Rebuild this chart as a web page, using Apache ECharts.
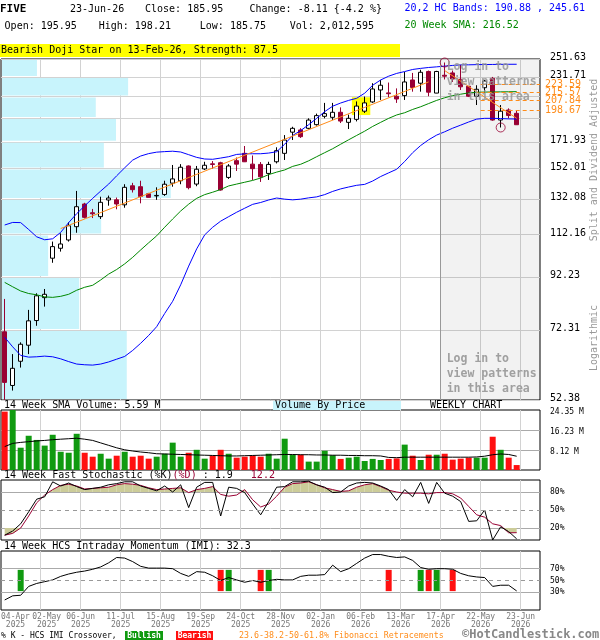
<!DOCTYPE html>
<html><head><meta charset="utf-8">
<script src="https://cdn.jsdelivr.net/npm/echarts@6/dist/echarts.min.js"></script>
<style>html,body{margin:0;padding:0;background:#fff}#c{width:600px;height:640px}</style>
</head><body><div id="c"></div>
<script>
// ---------------- DATA ----------------
const opens  = [71.7,56.0,62.6,67.4,75.5,83.9,100.6,105.3,109.4,116.3,129.1,124.0,121.8,131.5,131.6,128.6,140.4,139.8,135.3,134.0,134.9,142.1,143.7,153.8,141.5,151.7,155.3,156.1,145.9,157.6,163.0,155.1,154.9,148.6,156.8,163.0,179.7,181.5,182.9,186.0,193.3,192.4,196.9,188.0,190.6,197.9,206.5,218.2,215.3,212.0,212.6,228.5,225.1,237.6,215.1,233.5,236.0,229.2,222.0,212.0,220.5,230.2,190.0,199.0,195.95];
const closes = [56.8,60.6,67.7,75.4,84.6,85.2,106.1,107.4,116.8,127.5,121.4,123.4,130.1,132.7,129.1,139.4,137.9,133.7,133.1,134.3,141.4,144.9,152.9,139.2,151.5,154.3,154.9,137.7,153.8,155.1,156.8,151.9,146.3,154.9,165.0,173.3,182.9,176.0,190.0,193.9,195.7,196.9,189.1,191.5,202.6,205.6,219.2,223.0,214.5,209.3,226.4,220.8,236.7,216.0,237.6,232.5,229.5,221.4,212.0,218.9,227.4,190.0,197.9,194.06,185.95];
const lows   = [52.4,54.7,60.8,64.7,73.7,80.5,98.5,103.7,108.6,113.1,120.8,121.0,120.5,128.1,126.0,126.9,136.1,129.5,133.0,131.6,134.0,139.8,141.4,138.1,140.1,151.0,151.9,137.3,144.9,150.3,156.6,144.2,142.9,144.2,155.6,158.1,173.3,175.0,182.1,185.2,191.5,190.0,187.4,182.3,188.8,196.3,205.6,208.4,211.0,205.6,208.4,216.5,216.5,212.0,215.0,229.0,226.4,218.2,211.2,203.6,215.1,189.4,183.6,191.5,185.75];
const highs  = [83.4,64.7,68.3,79.3,85.6,87.3,108.6,112.8,118.7,137.1,129.8,126.2,133.5,134.2,133.0,141.4,142.3,143.7,135.9,139.4,143.7,154.5,155.1,154.2,153.8,156.8,157.3,156.8,155.1,159.9,168.6,161.4,156.6,156.8,167.6,177.3,184.2,183.0,191.5,195.7,205.6,205.6,201.4,194.8,207.0,211.7,225.1,228.5,225.8,219.8,237.0,236.0,239.5,238.6,238.3,247.6,238.6,244.9,222.0,223.0,228.5,231.7,203.6,200.5,198.21];

const hcUpper = [117.2,118.6,118.5,114.8,111.0,109.5,110.0,113.3,118.5,123.5,128.0,132.5,137.0,141.5,147.0,152.5,158.0,161.0,162.8,163.9,164.3,164.6,164.0,162.0,160.0,158.8,158.6,159.5,160.5,162.2,162.6,162.7,162.7,163.2,164.2,170.0,177.0,181.0,186.0,191.5,197.5,202.5,205.5,208.0,210.0,215.0,223.0,228.5,232.5,235.5,237.5,239.8,241.0,242.0,242.7,243.5,244.3,244.9,245.0,245.2,245.3,245.4,245.5,245.6,245.61];
const hcLower = [69.9,66.9,64.3,63.8,63.9,64.1,63.9,63.3,62.5,61.8,61.6,61.5,61.8,62.4,63.2,64.0,65.8,68.0,70.5,73.4,78.0,82.5,89.0,97.0,105.0,112.0,116.0,119.3,121.8,124.3,126.6,128.9,130.0,131.5,132.7,132.0,131.6,132.0,132.8,133.4,134.8,136.8,138.4,139.6,140.7,141.3,143.5,146.5,149.0,151.5,157.0,163.5,169.0,173.5,177.3,180.0,183.0,185.6,188.3,190.8,191.5,191.5,191.3,191.0,190.88];
const sma20   = [90.0,88.2,86.5,85.5,85.0,84.2,84.0,84.4,85.2,86.8,88.0,88.8,91.0,93.5,95.5,98.0,101.0,104.5,108.0,111.5,116.0,120.5,125.0,129.0,132.5,134.8,136.3,138.0,140.3,141.5,142.7,143.9,145.5,147.8,149.5,151.0,153.5,155.0,157.5,160.5,163.5,166.5,170.0,173.5,177.0,180.5,184.5,188.0,191.5,194.5,196.5,199.5,202.0,205.0,208.0,210.5,212.6,214.0,215.3,215.9,216.1,216.2,216.3,216.4,216.52];

const volumes = [23.7,25.5,9.05,13.9,12.2,9.9,14.3,7.4,7.0,14.7,7.0,5.4,6.6,4.6,5.8,7.4,5.4,5.8,4.6,5.4,6.6,11.1,5.4,7.0,8.2,4.6,5.8,8.2,6.6,5.0,5.4,5.8,5.4,6.6,4.6,12.7,6.2,6.2,3.4,3.4,7.8,6.0,4.5,5.0,5.4,3.65,4.5,4.06,4.5,4.7,10.3,5.8,4.06,6.2,6.2,6.6,4.2,4.6,5.0,5.0,5.0,13.5,8.2,5.0,2.01];
const volDir  = 'RGGGGGGGGGRRGGRGRRRGGGGRGGRRGRRRRGGGGRGGGGRGGGGGRRGRGRGRRRRGGRGRR';
const volSma  = [9.5,10.8,11.2,11.5,11.8,12.0,12.3,12.5,12.7,12.9,12.5,12.0,11.0,10.0,9.0,8.2,7.7,7.3,7.0,6.6,6.5,6.4,6.3,6.2,6.1,6.0,5.9,5.8,5.7,5.7,5.8,5.9,6.0,6.1,6.2,6.3,6.3,6.2,6.2,6.1,6.1,6.0,6.0,5.9,5.9,5.8,5.8,5.7,5.1,5.0,5.2,5.2,5.2,5.2,5.2,5.2,5.2,5.2,5.2,5.3,5.6,6.2,6.5,6.3,5.59];

const stochK = [8,15,27,47,68,72,97,90,95,89,84,86,88,92,94,97,97,90,86,82,90,80,92,54,88,96,96,40,88,86,79,60,42,64,88,89,97,97,98,92,88,79,80,90,95,96,95,90,84,66,84,72,96,61,96,78,73,64,31,32,50,0,22,14,1.9];
const stochD = [8,11,20,40,62,75,84,91,93,90,85,86,87,88,92,94,93,91,87,84,85,86,87,79,84,86,89,76,73,75,84,67,55,60,73,88,94,95,97,92,87,84,81,82,88,92,94,89,83,80,78,78,78,77,79,79,77,70,56,42,38,27,24,12,12.2];

const imi = [17,24,25,40,45,48,51,57,61,64,66,69,73,80,89,88,82,74,71,71,71,70,62,57,65,64,58,50,55,51,47,50,47,50,52,51,51,57,59,59,60,76,65,70,79,88,94,94,91,89,90,84,72,69,70,70,69,62,58,56,55,40,42,42,32.3];
const imiBullish = [2,28,33,52,54];
const imiBearish = [27,32,48,53,56];

const priceTicks  = [52.38,72.31,92.23,112.16,132.08,152.01,171.93,191.86,211.78,231.71,251.63];
const priceLabels = [52.38,72.31,92.23,112.16,132.08,152.01,171.93,231.71,251.63];
const vbpVolume   = [28.0,17.4,10.5,22.3,37.8,22.9,25.6,21.1,28.3,8.0]; // per price band, low -> high
const volTicks    = [8.12,16.23,24.35];
const fibLevels   = [223.59,215.57,207.84,198.67];
const trendUp     = [[7,115.3],[53,226.5]];
const trendDown   = [[55,238.6],[64,191.5]];
const swingPoints = [[55,247.6],[62,183.6]];
const patternBox  = [[43.4,211.0],[45.7,194.4]];
const loginStart  = 54.5;
const fibStart    = 59.5;
const weekGrid    = [4.5,9.5,14.5,19.5,24.5,29.5,34.5,39.5,44.5,49.5,54.5,59.5,64.5];
const datePos     = [1.35,5.25,9.5,14.5,19.5,24.5,29.5,34.5,39.5,44.5,49.5,54.5,59.5,64.5];
const dateLabels  = ['04-Apr\n2025','02-May\n2025','06-Jun\n2025','11-Jul\n2025','15-Aug\n2025','19-Sep\n2025','24-Oct\n2025','28-Nov\n2025','02-Jan\n2026','06-Feb\n2026','13-Mar\n2026','17-Apr\n2026','22-May\n2026','23-Jun\n2026'];

// ---------------- CHART ----------------
const XMIN = -0.46, XMAX = 66.915;
const MONO = '"DejaVu Sans Mono", monospace';
const idx = opens.map((_, i) => i);
const pairs = arr => arr.map((v, i) => [i, v]);

const grids = [
  {left:1, top:59, width:539, height:341},
  {left:1, top:410, width:539, height:60},
  {left:1, top:480, width:539, height:60},
  {left:1, top:551, width:539, height:59}
].map(g => Object.assign(g, {show:true, borderColor:'#000', borderWidth:1, backgroundColor:'#fff', containLabel:false, outerBoundsMode:'none'}));

const xAx = gi => ({
  type:'value', gridIndex:gi, min:XMIN, max:XMAX,
  axisLine:{show:false}, axisTick:{show:false, customValues:weekGrid},
  axisLabel:{show:false}, splitLine:{show:true, lineStyle:{color:'#d2d2d2', width:1}}
});
const xAxes = [xAx(0), xAx(1), xAx(2), xAx(3),
  {type:'value', gridIndex:0, min:0, max:120, show:false, splitLine:{show:false}}];
xAxes[3].axisLabel = {
  show:true, hideOverlap:false, customValues:datePos, fontFamily:MONO, fontSize:8, lineHeight:8, color:'#777', margin:3,
  formatter: v => { const k = datePos.findIndex(p => Math.abs(p - v) < 1e-6); return k >= 0 ? dateLabels[k] : ''; }
};

const yAxes = [
  {type:'log', gridIndex:0, position:'right', min:52.375, max:251.635,
   axisLine:{show:false}, axisTick:{show:false, customValues:priceTicks},
   splitLine:{show:true, lineStyle:{color:'#d2d2d2'}},
   axisLabel:{customValues:priceLabels, hideOverlap:false, formatter:v => Number(v).toFixed(2), fontFamily:MONO, fontSize:10, color:'#000', margin:10, verticalAlign:'bottom', lineHeight:3}},
  {type:'value', gridIndex:1, position:'right', min:0, max:24.35,
   axisLine:{show:false}, axisTick:{show:false, customValues:[8.12,16.23]},
   splitLine:{show:true, lineStyle:{color:'#aaaaaa'}},
   axisLabel:{customValues:volTicks, hideOverlap:false, formatter:v => Number(v).toFixed(2) + ' M', fontFamily:MONO, fontSize:8, color:'#000', margin:10, verticalAlign:'top', lineHeight:4}},
  {type:'value', gridIndex:2, position:'right', min:0, max:100,
   axisLine:{show:false}, axisTick:{show:false, customValues:[20,80]},
   splitLine:{show:true, lineStyle:{color:'#aaaaaa'}},
   axisLabel:{customValues:[20,50,80], hideOverlap:false, formatter:v => v + '%', fontFamily:MONO, fontSize:8, color:'#000', margin:10}},
  {type:'value', gridIndex:3, position:'right', min:0, max:100,
   axisLine:{show:false}, axisTick:{show:false, customValues:[30,70]},
   splitLine:{show:true, lineStyle:{color:'#aaaaaa'}},
   axisLabel:{customValues:[30,50,70], hideOverlap:false, formatter:v => v + '%', fontFamily:MONO, fontSize:8, color:'#000', margin:10}}
];

const line = (data, color, xi, yi, extra) => Object.assign({
  type:'line', xAxisIndex:xi, yAxisIndex:yi, data, symbol:'none', silent:true,
  lineStyle:{color, width:1}, z:4
}, extra || {});

const dash50 = {silent:true, symbol:['none','none'], label:{show:false},
  lineStyle:{color:'#999', type:[4,4], width:1}, data:[{yAxis:50}]};

// khaki fill between %D and an overbought/oversold level
const stochFill = (level, above) => ({
  type:'custom', xAxisIndex:2, yAxisIndex:2, z:2, silent:true,
  data: stochD.slice(0, -1).map((d, i) => [i, d, stochD[i + 1]]),
  encode:{x:0},
  renderItem:(params, api) => {
    const i = api.value(0), d0 = api.value(1), d1 = api.value(2);
    const a = above ? d0 - level : level - d0;
    const b = above ? d1 - level : level - d1;
    if (a <= 0 && b <= 0) return null;
    let pts;
    if (a > 0 && b > 0) pts = [[i, level], [i, d0], [i + 1, d1], [i + 1, level]];
    else if (a > 0) { const t = a / (a - b); pts = [[i, level], [i, d0], [i + t, level]]; }
    else { const t = a / (a - b); pts = [[i + t, level], [i + 1, d1], [i + 1, level]]; }
    return {type:'polygon', shape:{points: pts.map(p => api.coord(p))}, style:{fill:'#cccc99'}};
  }
});

const series = [
  // Volume by price
  {type:'custom', xAxisIndex:4, yAxisIndex:0, z:1, silent:true,
   data: vbpVolume.map((v, k) => [v, priceTicks[k], priceTicks[k + 1]]),
   encode:{x:0, y:[1,2]},
   renderItem:(params, api) => {
     const p0 = api.coord([0, api.value(2)]);
     const p1 = api.coord([api.value(0), api.value(1)]);
     return {type:'rect', shape:{x:p0[0] + 1, y:p0[1] + 1, width:p1[0] - p0[0] - 1, height:p1[1] - p0[1] - 2}, style:{fill:'#c8f4fc'}};
   }},
  // Candles
  {type:'candlestick', xAxisIndex:0, yAxisIndex:0, z:3, barWidth:5, silent:true,
   data: idx.map(i => [i, opens[i], closes[i], lows[i], highs[i]]),
   encode:{x:0, y:[1,2,3,4]},
   itemStyle:{color:'#ffffff', color0:'#990033', borderColor:'#000000', borderColor0:'#990033', borderWidth:1},
   markArea:{silent:true, data:[
     [{xAxis:loginStart, itemStyle:{color:'rgba(0,0,0,0.05)', opacity:1}}, {xAxis:XMAX}],
     [{coord:patternBox[0], itemStyle:{color:'#ffff00', opacity:1}}, {coord:patternBox[1]}]
   ]},
   markLine:{silent:true, symbol:['none','none'], label:{show:false},
     lineStyle:{color:'#999', type:'solid', width:1}, data:[{xAxis:loginStart}]}
  },
  line(pairs(hcUpper), '#0000ff', 0, 0),
  line(pairs(hcLower), '#0000ff', 0, 0),
  line(pairs(sma20), '#008800', 0, 0),
  line(trendUp, '#ff8c1a', 0, 0),
  line(trendDown, '#ff8c1a', 0, 0, {
    markLine:{silent:true, symbol:['none','none'],
      lineStyle:{color:'#ff8c1a', type:[4,3], width:1},
      label:{show:true, position:'end', distance:5, color:'#ff8c1a', fontFamily:MONO, fontSize:10},
      data: fibLevels.map(v => [{coord:[fibStart, v], label:{formatter:v.toFixed(2)}}, {coord:[XMAX, v]}])}
  }),
  {type:'scatter', xAxisIndex:0, yAxisIndex:0, z:6, silent:true, data:swingPoints, symbol:'circle', symbolSize:9,
   itemStyle:{color:'rgba(0,0,0,0)', borderColor:'#990033', borderWidth:1}},
  // Volume
  {type:'bar', xAxisIndex:1, yAxisIndex:1, barWidth:6, silent:true, z:2,
   data: volumes.map((v, i) => ({value:[i, v], itemStyle:{color: volDir[i] === 'G' ? '#109a10' : '#ff1010'}}))},
  line(pairs(volSma), '#000', 1, 1),
  // Stochastic
  stochFill(80, true),
  stochFill(20, false),
  line(pairs(stochD), '#990033', 2, 2),
  line(pairs(stochK), '#000', 2, 2, {markLine:dash50}),
  // IMI
  line(pairs(imi), '#000', 3, 3, {markLine:dash50}),
  ...[[imiBullish, '#109a10'], [imiBearish, '#ff1010']].map(([arr, col]) => ({
    type:'custom', xAxisIndex:3, yAxisIndex:3, z:3, silent:true,
    data: arr.map(i => [i]), encode:{x:0},
    renderItem:(params, api) => {
      const top = api.coord([api.value(0), 68]);
      const bot = api.coord([api.value(0), 32]);
      return {type:'rect', shape:{x:top[0] - 3, y:top[1], width:6, height:bot[1] - top[1]}, style:{fill:col}};
    }
  }))
];

const F = (size, bold) => (bold ? 'bold ' : '') + size + 'px ' + MONO;
const T = (x, y, text, opt) => ({type:'text', x, y, silent:true, z:100,
  style:Object.assign({text, font:F(10), fill:'#000', verticalAlign:'middle'}, opt || {})});

const graphic = [
  {type:'rect', shape:{x:0, y:44, width:400, height:13}, style:{fill:'#ffff00'}, silent:true, z:90},
  T(0, 9, 'FIVE', {font:F(11, true)}),
  T(70, 9, '23-Jun-26'), T(145, 9, 'Close: 185.95'), T(249.5, 9, 'Change: -8.11 {-4.2 %}'),
  T(4.6, 26.5, 'Open: 195.95'), T(98.7, 26.5, 'High: 198.21'), T(199.8, 26.5, 'Low: 185.75'), T(289.7, 26.5, 'Vol: 2,012,595'),
  T(404.5, 8, '20,2 HC Bands: 190.88 , 245.61', {fill:'#0000ff'}),
  T(404.5, 25, '20 Week SMA: 216.52', {fill:'#008800'}),
  T(1, 50.5, 'Bearish Doji Star on 13-Feb-26, Strength: 87.5'),
  T(446.7, 67, 'Log in to', {font:F(11.5, true), fill:'rgba(150,150,150,0.85)'}),
  T(446.7, 82, 'view patterns', {font:F(11.5, true), fill:'rgba(150,150,150,0.85)'}),
  T(446.7, 97, 'in this area', {font:F(11.5, true), fill:'rgba(150,150,150,0.85)'}),
  T(446.7, 359, 'Log in to', {font:F(11.5, true), fill:'#a0a0a0'}),
  T(446.7, 374, 'view patterns', {font:F(11.5, true), fill:'#a0a0a0'}),
  T(446.7, 389, 'in this area', {font:F(11.5, true), fill:'#a0a0a0'}),
  {type:'text', x:594, y:160, rotation:Math.PI / 2, silent:true, z:100,
   style:{text:'Split and Dividend Adjusted', font:F(10), fill:'#999', align:'center', verticalAlign:'middle'}},
  {type:'text', x:594, y:338, rotation:Math.PI / 2, silent:true, z:100,
   style:{text:'Logarithmic', font:F(10), fill:'#999', align:'center', verticalAlign:'middle'}},
  T(4, 405.5, '14 Week SMA Volume: 5.59 M'),
  {type:'rect', shape:{x:273, y:401, width:128, height:9}, style:{fill:'#c8f4fc'}, silent:true, z:90},
  T(275, 405.5, 'Volume By Price'),
  T(430, 405.5, 'WEEKLY CHART'),
  {type:'text', x:4, y:475.5, silent:true, z:100,
   style:{text:'{k|14 Week Fast Stochastic (%K)}{d|(%D)}{k| : 1.9   }{d|12.2}', verticalAlign:'middle', font:F(10),
     rich:{k:{fill:'#000', fontFamily:MONO, fontSize:10}, d:{fill:'#990033', fontFamily:MONO, fontSize:10}}}},
  T(4, 546, '14 Week HCS Intraday Momentum (IMI): 32.3'),
  T(1, 635.5, '% K - HCS IMI Crossover,', {font:F(8)}),
  {type:'rect', shape:{x:125, y:631, width:38, height:9}, style:{fill:'#109a10'}, silent:true, z:90},
  T(144, 635.5, 'Bullish', {font:F(8, true), fill:'#fff', align:'center'}),
  {type:'rect', shape:{x:176, y:631, width:37, height:9}, style:{fill:'#ff1010'}, silent:true, z:90},
  T(194.5, 635.5, 'Bearish', {font:F(8, true), fill:'#fff', align:'center'}),
  T(239, 635.5, '23.6-38.2-50-61.8% Fibonacci Retracements', {font:F(8.3), fill:'#ff8c1a'}),
  T(462, 634.5, '\u00A9HotCandlestick.com', {font:F(12, true), fill:'#888'})
];

const chart = echarts.init(document.getElementById('c'), null, {renderer:'canvas', width:600, height:640});
chart.setOption({
  animation:false, backgroundColor:'#fff',
  grid:grids, xAxis:xAxes, yAxis:yAxes, series, graphic
});
</script>
</body></html>
